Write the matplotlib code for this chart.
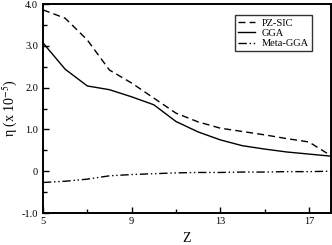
import numpy as np
import matplotlib
matplotlib.use("Agg")
import matplotlib.pyplot as plt
from matplotlib.ticker import MultipleLocator, FixedLocator

plt.rcParams['font.family'] = ['Liberation Serif', 'DejaVu Serif']
plt.rcParams['mathtext.fontset'] = 'stix'

# data
Z = [5, 6, 7, 8, 9, 10, 11, 12, 13, 14, 15, 16, 17, 18]
pz_sic = [3.86, 3.66, 3.14, 2.42, 2.11, 1.75, 1.39, 1.18, 1.03, 0.95, 0.87, 0.78, 0.70, 0.37]
gga = [3.07, 2.44, 2.04, 1.95, 1.78, 1.59, 1.19, 0.94, 0.75, 0.61, 0.53, 0.46, 0.41, 0.36]
meta_gga = [-0.27, -0.24, -0.19, -0.11, -0.08, -0.06, -0.04, -0.03, -0.03, -0.02, -0.02, -0.01, -0.01, 0.0]

xticks = [5, 9, 13, 17]
yticks = [-1.0, 0.0, 1.0, 2.0, 3.0, 4.0]
ylabels = ['-1.0', '0', '1.0', '2.0', '3.0', '4.0']

fig = plt.figure(figsize=(3.32, 2.45), dpi=100)
ax = fig.add_axes([0.1295, 0.1306, 0.8675, 0.853])

ax.plot(Z, pz_sic, color='black', lw=1.0, linestyle=(0, (5, 3)), label='PZ-SIC')
ax.plot(Z, gga, color='black', lw=1.0, label='GGA')
ax.plot(Z, meta_gga, color='black', lw=1.0, linestyle=(0, (6, 2, 1, 2, 1, 2)), label='Meta-GGA')

ax.set_xlim(5, 18)
ax.set_ylim(-1.0, 4.0)
ax.xaxis.set_major_locator(FixedLocator(xticks))
ax.xaxis.set_minor_locator(FixedLocator([7, 11, 15]))
ax.set_yticks(yticks)
ax.set_yticklabels(ylabels)
ax.yaxis.set_minor_locator(MultipleLocator(0.5))
ax.tick_params(which='both', direction='in', labelsize=7.5, width=1.0)
ax.tick_params(which='major', length=4)
ax.tick_params(which='minor', length=3)
ax.tick_params(axis='x', pad=3)
for s in ax.spines.values():
    s.set_linewidth(1.4)

ax.set_xlabel('Z', fontsize=10, labelpad=4)
ax.set_ylabel('η (x 10$^{-5}$)', fontsize=10, labelpad=2)

leg = ax.legend(loc='upper right', bbox_to_anchor=(0.934, 0.947), fontsize=7.5,
                frameon=True, fancybox=False, borderpad=0.3, labelspacing=0.1,
                handlelength=1.7, handletextpad=0.6, borderaxespad=0)
leg.get_frame().set_edgecolor('black')
leg.get_frame().set_linewidth(1.0)

fig.savefig('out.png', dpi=100)
